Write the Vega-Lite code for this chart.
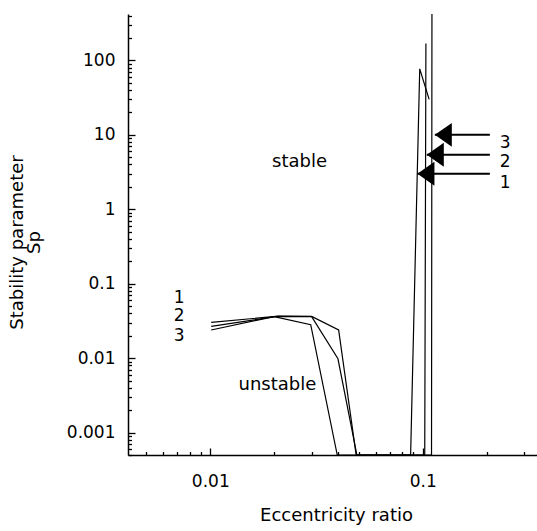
{
  "$schema": "https://vega.github.io/schema/vega-lite/v6.json",
  "autosize": {"type": "none"},
  "padding": {"left": 128, "top": 14, "right": 0, "bottom": 76},
  "width": 409,
  "height": 441,
  "background": "white",
  "config": {
    "view": {"stroke": null},
    "font": "DejaVu Sans",
    "axis": {
      "grid": false,
      "domainColor": "black",
      "domainWidth": 1.5,
      "tickColor": "black",
      "tickWidth": 1.3,
      "labelColor": "black",
      "labelFontSize": 17,
      "labelFlush": false,
      "labelOverlap": false,
      "titleColor": "black",
      "titleFontSize": 18,
      "titleFontWeight": "normal"
    }
  },
  "resolve": {"scale": {"x": "shared", "y": "shared"}, "axis": {"x": "independent", "y": "independent"}},
  "datasets": {
    "curves": [
      {"curve": 1, "i": 1, "x": 0.0101, "y": 0.0303},
      {"curve": 1, "i": 2, "x": 0.021, "y": 0.0366},
      {"curve": 1, "i": 3, "x": 0.03, "y": 0.0364},
      {"curve": 1, "i": 4, "x": 0.0402, "y": 0.0239},
      {"curve": 1, "i": 5, "x": 0.0486, "y": 0.0005},
      {"curve": 1, "i": 6, "x": 0.0877, "y": 0.0005},
      {"curve": 1, "i": 7, "x": 0.0968, "y": 77},
      {"curve": 1, "i": 8, "x": 0.1072, "y": 30},
      {"curve": 2, "i": 1, "x": 0.0101, "y": 0.0267},
      {"curve": 2, "i": 2, "x": 0.0205, "y": 0.0364},
      {"curve": 2, "i": 3, "x": 0.03, "y": 0.0362},
      {"curve": 2, "i": 4, "x": 0.0399, "y": 0.0098},
      {"curve": 2, "i": 5, "x": 0.049, "y": 0.0005},
      {"curve": 2, "i": 6, "x": 0.1022, "y": 0.0005},
      {"curve": 2, "i": 7, "x": 0.1035, "y": 168},
      {"curve": 3, "i": 1, "x": 0.0101, "y": 0.0239},
      {"curve": 3, "i": 2, "x": 0.02, "y": 0.0362},
      {"curve": 3, "i": 3, "x": 0.0297, "y": 0.0282},
      {"curve": 3, "i": 4, "x": 0.0396, "y": 0.0005},
      {"curve": 3, "i": 5, "x": 0.11, "y": 0.0005},
      {"curve": 3, "i": 6, "x": 0.1105, "y": 420}
    ],
    "arrows": [
      {"label": "3", "x": 0.114, "x2": 0.207, "y": 10},
      {"label": "2", "x": 0.1045, "x2": 0.207, "y": 5.4},
      {"label": "1", "x": 0.0944, "x2": 0.207, "y": 3.0}
    ],
    "texts": [
      {"text": "stable", "x": 0.0263, "y": 4.25, "size": 18},
      {"text": "unstable", "x": 0.0207, "y": 0.0043, "size": 18},
      {"text": "1", "x": 0.00714, "y": 0.0648, "size": 17},
      {"text": "2", "x": 0.00714, "y": 0.0372, "size": 17},
      {"text": "3", "x": 0.00714, "y": 0.02, "size": 17},
      {"text": "3", "x": 0.244, "y": 7.8, "size": 17},
      {"text": "2", "x": 0.244, "y": 4.35, "size": 17},
      {"text": "1", "x": 0.244, "y": 2.27, "size": 17}
    ]
  },
  "layer": [
    {
      "data": {"name": "curves"},
      "mark": {"type": "line", "color": "black", "strokeWidth": 1.2, "clip": true},
      "encoding": {
        "x": {
          "field": "x", "type": "quantitative",
          "scale": {"type": "log", "domain": [0.0041, 0.345], "nice": false},
          "axis": {
            "orient": "bottom",
            "title": "Eccentricity ratio",
            "values": [0.01, 0.1],
            "format": "~g",
            "tickSize": -7,
            "labelPadding": 25,
            "titleX": 208,
            "titleY": 60,
            "titleBaseline": "middle"
          }
        },
        "y": {
          "field": "y", "type": "quantitative",
          "scale": {"type": "log", "domain": [0.0005, 420], "nice": false},
          "axis": {
            "orient": "left",
            "title": ["Stability parameter", "\u2003\u2003\u2003\u2003\u2003Sp"],
            "values": [0.001, 0.01, 0.1, 1, 10, 100],
            "format": "~g",
            "tickSize": -7,
            "labelPadding": 20,
            "titleAngle": -90,
            "titleX": -111,
            "titleY": 228,
            "titleAlign": "center",
            "titleBaseline": "middle",
            "titleLineHeight": 17
          }
        },
        "detail": {"field": "curve", "type": "nominal"},
        "order": {"field": "i", "type": "quantitative"}
      }
    },
    {
      "data": {"name": "arrows"},
      "mark": {"type": "rule", "color": "black", "strokeWidth": 2},
      "encoding": {
        "x": {
          "field": "x", "type": "quantitative",
          "axis": {
            "orient": "bottom",
            "title": null,
            "values": [0.005, 0.006, 0.007, 0.008, 0.009, 0.02, 0.03, 0.04, 0.05, 0.06, 0.07, 0.08, 0.09, 0.2, 0.3],
            "labels": false,
            "domain": false,
            "tickSize": -3.5
          }
        },
        "x2": {"field": "x2"},
        "y": {
          "field": "y", "type": "quantitative",
          "axis": {
            "orient": "left",
            "title": null,
            "values": [0.0005, 0.0006, 0.0007, 0.0008, 0.0009, 0.002, 0.003, 0.004, 0.005, 0.006, 0.007, 0.008, 0.009, 0.02, 0.03, 0.04, 0.05, 0.06, 0.07, 0.08, 0.09, 0.2, 0.3, 0.4, 0.5, 0.6, 0.7, 0.8, 0.9, 2, 3, 4, 5, 6, 7, 8, 9, 20, 30, 40, 50, 60, 70, 80, 90, 200, 300, 400],
            "labels": false,
            "domain": false,
            "tickSize": -3.5
          }
        }
      }
    },
    {
      "data": {"name": "arrows"},
      "mark": {"type": "point", "shape": "M0,0L1,-0.7L1,0.7Z", "size": 1156, "filled": true, "color": "black", "opacity": 1, "strokeWidth": 0},
      "encoding": {
        "x": {"field": "x", "type": "quantitative", "axis": null},
        "y": {"field": "y", "type": "quantitative", "axis": null}
      }
    },
    {
      "data": {"name": "texts"},
      "mark": {"type": "text", "color": "black", "align": "center", "baseline": "middle"},
      "encoding": {
        "x": {"field": "x", "type": "quantitative", "axis": null},
        "y": {"field": "y", "type": "quantitative", "axis": null},
        "text": {"field": "text", "type": "nominal"},
        "size": {"field": "size", "type": "quantitative", "scale": null}
      }
    }
  ]
}
